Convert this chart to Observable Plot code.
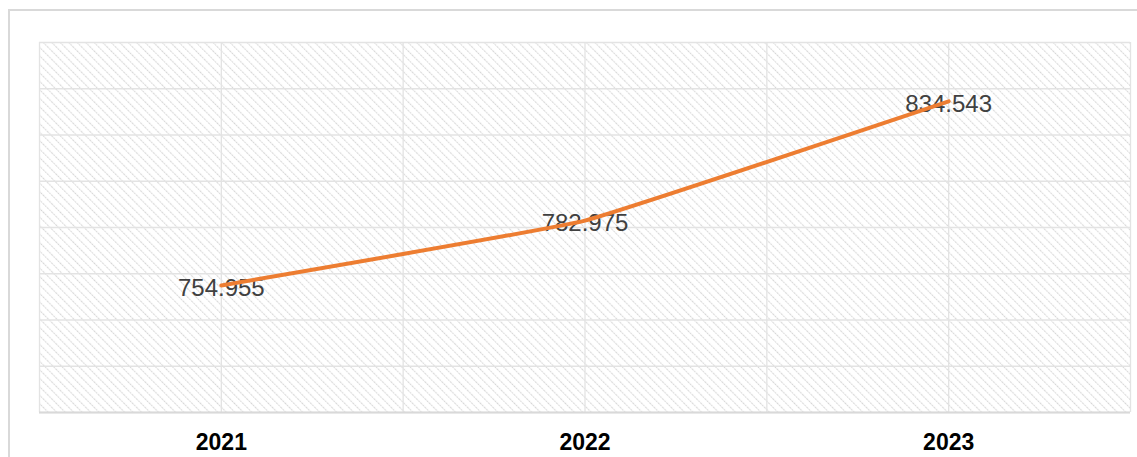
<!DOCTYPE html>
<html>
<head>
<meta charset="utf-8">
<script src="https://cdn.jsdelivr.net/npm/d3@7"></script>
<script src="https://cdn.jsdelivr.net/npm/@observablehq/plot@0.6"></script>
<style>
  html, body { margin: 0; padding: 0; background: #fff; overflow: hidden; }
  #frame { position: absolute; left: 8px; top: 9px; width: 1140px; height: 460px; border: 2px solid #d9d9d9; box-sizing: border-box; }
  #chart { position: absolute; left: 0; top: 0; }
</style>
</head>
<body>
<div id="frame"></div>
<div id="chart"></div>
<script>
const years = [2021, 2022, 2023];
const values = [754.955, 782.975, 834.543];
const labels = ["754.955", "782.975", "834.543"];
const yTicks = [700, 720, 740, 760, 780, 800, 820, 840, 860];

const data = years.map((y, i) => ({year: y, value: values[i], label: labels[i]}));
const xGrid = d3.range(years[0] - 0.5, years[years.length - 1] + 0.51, 0.5);

const font = "'Liberation Sans', Arial, sans-serif";

const plot = Plot.plot({
  width: 1137,
  height: 457,
  marginLeft: 39,
  marginRight: 7,
  marginTop: 42,
  marginBottom: 45,
  style: {fontFamily: font, background: "transparent", overflow: "visible"},
  x: {domain: [years[0] - 0.5, years[years.length - 1] + 0.5], axis: null},
  y: {domain: [yTicks[0], yTicks[yTicks.length - 1]], axis: null},
  marks: [
    Plot.frame({fill: "url(#hatch)", stroke: null}),
    Plot.ruleY(yTicks, {stroke: "#e3e3e3", strokeWidth: 1.3, strokeOpacity: 1}),
    Plot.ruleX(xGrid, {stroke: "#e3e3e3", strokeWidth: 1.3, strokeOpacity: 1}),
    Plot.ruleY([yTicks[0]], {stroke: "#d9d9d9", strokeWidth: 2}),
    Plot.text(data, {x: "year", y: "value", text: "label", fontSize: 24, fill: "#404040", dy: 3}),
    Plot.line(data, {x: "year", y: "value", stroke: "#ED7D31", strokeWidth: 4, curve: "cardinal", tension: 0.75, strokeLinecap: "round"}),
    Plot.axisX({ticks: years, tickFormat: d => String(d), tickSize: 0, tickPadding: 21, fontSize: 23, fontWeight: "bold", fill: "#000", label: null})
  ]
});

const ns = "http://www.w3.org/2000/svg";
const defs = document.createElementNS(ns, "defs");
defs.innerHTML = `<pattern id="hatch" patternUnits="userSpaceOnUse" width="6" height="6" patternTransform="rotate(-45)">
  <rect width="6" height="6" fill="#ffffff"/>
  <line x1="0" y1="0" x2="0" y2="6" stroke="#d6d6d6" stroke-width="2.2" stroke-dasharray="1.6 1"/>
</pattern>`;
plot.insertBefore(defs, plot.firstChild);
document.getElementById("chart").appendChild(plot);
</script>
</body>
</html>
